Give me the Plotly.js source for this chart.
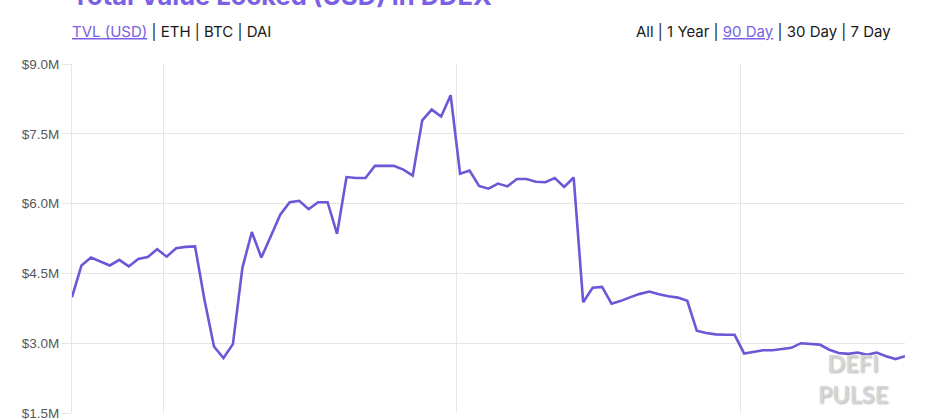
<!DOCTYPE html>
<html>
<head>
<meta charset="utf-8">
<script src="https://cdn.plot.ly/plotly-3.0.1.min.js"></script>
<style>
  html, body { margin: 0; padding: 0; background: #fff; overflow: hidden; }
  #chart { width: 938px; height: 460px; }
</style>
</head>
<body>
<div id="chart"></div>
<script>
// Daily TVL (USD, millions) for the 90-day view
const startDate = '2020-02-20';
const tvlMillions = [
  3.99, 4.67, 4.84, 4.75, 4.67, 4.79, 4.65, 4.81, 4.85, 5.02,
  4.86, 5.04, 5.07, 5.08, 3.93, 2.93, 2.68, 2.98, 4.62, 5.39,
  4.84, 5.30, 5.76, 6.03, 6.06, 5.88, 6.03, 6.03, 5.35, 6.57,
  6.55, 6.55, 6.81, 6.81, 6.81, 6.73, 6.60, 7.79, 8.02, 7.87,
  8.33, 6.64, 6.71, 6.38, 6.32, 6.43, 6.37, 6.53, 6.53, 6.47,
  6.46, 6.55, 6.36, 6.56, 3.88, 4.19, 4.21, 3.85, 3.91, 3.99,
  4.06, 4.11, 4.05, 4.01, 3.98, 3.91, 3.27, 3.22, 3.19, 3.18,
  3.18, 2.78, 2.82, 2.85, 2.85, 2.88, 2.90, 3.00, 2.98, 2.97,
  2.86, 2.79, 2.77, 2.80, 2.75, 2.80, 2.72, 2.66, 2.72
];
const yTickValues = [1.5, 3.0, 4.5, 6.0, 7.5, 9.0];
const yTickLabels = ['$1.5M', '$3.0M', '$4.5M', '$6.0M', '$7.5M', '$9.0M'];
const leftMenu = ['TVL (USD)', 'ETH', 'BTC', 'DAI'];
const rightMenu = ['All', '1 Year', '90 Day', '30 Day', '7 Day'];
const activeLeft = 'TVL (USD)';
const activeRight = '90 Day';
const titleText = 'Total Value Locked (USD) in DDEX';
const watermark = ['DEFI', 'PULSE'];

// build daily date categories
const dates = [];
(function () {
  const d0 = new Date(startDate + 'T00:00:00Z');
  for (let i = 0; i < tvlMillions.length; i++) {
    const d = new Date(d0.getTime() + i * 86400000);
    dates.push(d.toISOString().slice(0, 10) + ' 08:00');
  }
})();

const purple = '#7b5fe4';
function menuHtml(items, active) {
  return items.map(t => t === active
    ? '<span style="color:' + purple + ';text-decoration:underline">' + t + '</span>'
    : t).join(' <span style="color:#222">|</span> ');
}

const trace = {
  x: dates,
  y: tvlMillions,
  type: 'scatter',
  mode: 'lines',
  line: { color: '#6a58d6', width: 2.6, shape: 'linear' },
  hoverinfo: 'x+y'
};

const gridColor = '#e6e6e6';
const layout = {
  width: 938,
  height: 460,
  margin: { l: 72, r: 33, t: 64, b: 47 },
  paper_bgcolor: '#ffffff',
  plot_bgcolor: '#ffffff',
  showlegend: false,
  font: { family: 'Liberation Sans, Arial, sans-serif', color: '#666' },
  xaxis: {
    type: 'date',
    range: [dates[0], dates[dates.length - 1]],
    tick0: '2020-03-01',
    dtick: 'M1',
    showgrid: true,
    gridcolor: gridColor,
    gridwidth: 1,
    zeroline: false,
    showline: false,
    ticks: '',
    showticklabels: false
  },
  yaxis: {
    range: [1.5, 9.0],
    tickmode: 'array',
    tickvals: yTickValues,
    ticktext: yTickLabels,
    showgrid: true,
    gridcolor: gridColor,
    gridwidth: 1,
    zeroline: false,
    showline: true,
    linecolor: gridColor,
    linewidth: 1,
    ticks: 'outside',
    ticklen: 9,
    tickcolor: gridColor,
    tickwidth: 1,
    tickfont: { family: 'Liberation Sans, Arial, sans-serif', size: 13.5, color: '#585858' }
  },
  annotations: [
    {
      text: '<b>' + titleText + '</b>',
      xref: 'paper', yref: 'paper',
      x: -0.003, y: 1.146, xanchor: 'left', yanchor: 'bottom',
      showarrow: false,
      font: { family: 'Inter, Lato, sans-serif', size: 25.5, color: purple }
    },
    {
      text: menuHtml(leftMenu, activeLeft),
      xref: 'paper', yref: 'paper',
      x: -0.003, y: 1.094, xanchor: 'left', yanchor: 'middle',
      showarrow: false,
      font: { family: 'Inter, Lato, sans-serif', size: 15, color: '#1a1a1a' }
    },
    {
      text: menuHtml(rightMenu, activeRight),
      xref: 'paper', yref: 'paper',
      x: 0.9856, y: 1.094, xanchor: 'right', yanchor: 'middle',
      showarrow: false,
      font: { family: 'Inter, Lato, sans-serif', size: 15, color: '#1a1a1a' }
    },
    {
      text: watermark.join('<br>'),
      xref: 'paper', yref: 'paper',
      x: 0.937, y: 0.1, xanchor: 'center', yanchor: 'middle',
      showarrow: false, align: 'center',
      font: { family: 'Lato, Inter, sans-serif', size: 23.5, weight: 600, color: '#d6d6d6',
              shadow: '1px 1px 2px #b4b4b4' }
    }
  ]
};

Plotly.newPlot('chart', [trace], layout, { displayModeBar: false, staticPlot: true });
</script>
</body>
</html>
